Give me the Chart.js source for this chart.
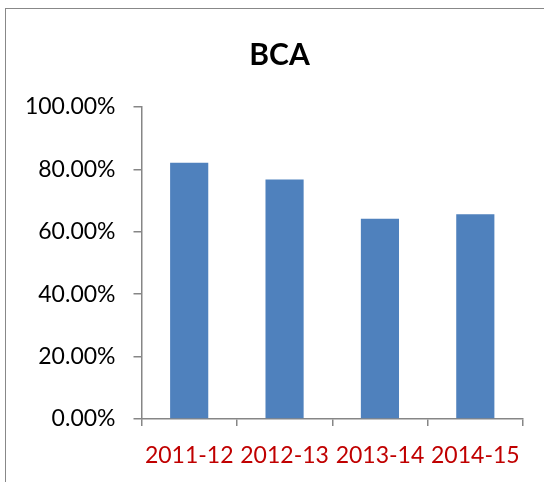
<!DOCTYPE html>
<html>
<head>
<meta charset="utf-8">
<script src="https://cdn.jsdelivr.net/npm/chart.js@4/dist/chart.umd.min.js"></script>
<style>
  html, body { margin: 0; padding: 0; background: #fff; }
  #wrap { position: relative; width: 544px; height: 482px; overflow: hidden; }
  #frame {
    position: absolute; left: 5px; top: 8px; width: 600px; height: 600px;
    border-left: 1px solid #888; border-top: 1px solid #888;
    box-sizing: border-box;
  }
  canvas { position: absolute; left: 0; top: 0; }
</style>
</head>
<body>
<div id="wrap">
  <div id="frame"></div>
  <canvas id="chart" width="544" height="482"></canvas>
</div>
<script>
const years = ['2011-12', '2012-13', '2013-14', '2014-15']
const bcaResults = [0.821, 0.768, 0.642, 0.656]

const axisColor = '#868686'

// the title sits over the whole frame, not over the plot, so nudge its box
const titleShift = {
  id: 'titleShift',
  afterLayout(chart) {
    if (chart.titleBlock) {
      chart.titleBlock.left = 36
    }
  }
}

const ctx = document.getElementById('chart').getContext('2d')

new Chart(ctx, {
  type: 'bar',
  data: {
    labels: years,
    datasets: [{
      label: 'BCA',
      data: bcaResults,
      backgroundColor: '#4F81BD',
      borderWidth: 0,
      barPercentage: 0.4,
      categoryPercentage: 1
    }]
  },
  options: {
    responsive: false,
    animation: false,
    layout: {
      padding: { left: 0, right: 21, top: 0, bottom: 0 }
    },
    plugins: {
      legend: { display: false },
      tooltip: { enabled: false },
      title: {
        display: true,
        text: 'BCA',
        color: '#000',
        font: { family: 'Lato', size: 30, weight: 'bold' },
        padding: { top: 37.5, bottom: 33.5 }
      }
    },
    scales: {
      x: {
        grid: {
          drawOnChartArea: false,
          tickLength: 7,
          tickColor: axisColor,
          lineWidth: 1.5
        },
        border: { color: axisColor, width: 1.5 },
        ticks: {
          color: '#C00000',
          font: { family: 'Lato', size: 23 },
          padding: 16,
          maxRotation: 0,
          autoSkip: false
        },
        afterFit: (scale) => { scale.height = 63 }
      },
      y: {
        min: 0,
        max: 1,
        grid: {
          drawOnChartArea: false,
          tickLength: 8,
          tickColor: axisColor,
          lineWidth: 1.5
        },
        border: { color: axisColor, width: 1.5 },
        ticks: {
          stepSize: 0.2,
          color: '#000',
          font: { family: 'Lato', size: 23 },
          padding: 18,
          callback: (value) => (value * 100).toFixed(2) + '%'
        },
        afterFit: (scale) => { scale.width = 141.5 }
      }
    }
  },
  plugins: [titleShift]
})
</script>
</body>
</html>
